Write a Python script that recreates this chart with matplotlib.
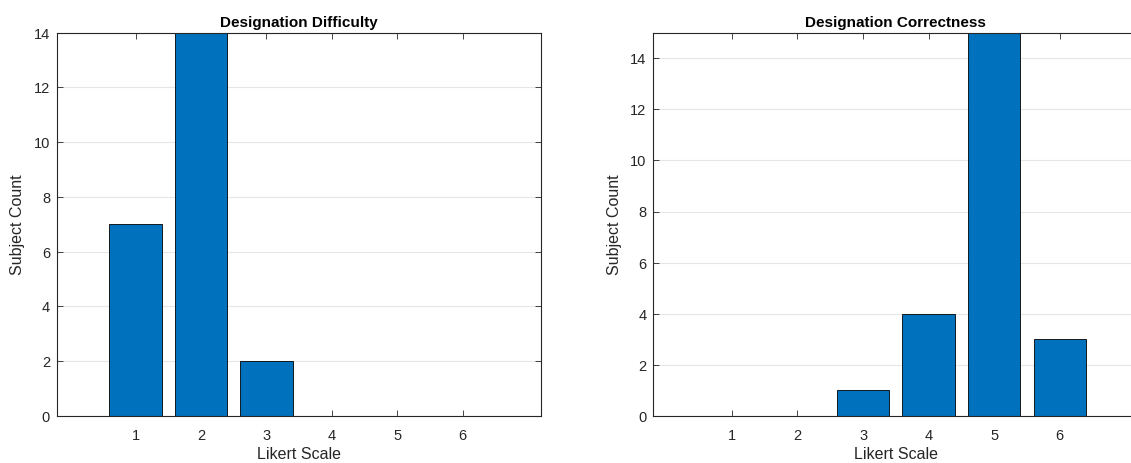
import matplotlib
matplotlib.use("Agg")
import matplotlib.pyplot as plt

plt.rcParams['font.family'] = ['Liberation Sans', 'DejaVu Sans']

likert = [1, 2, 3, 4, 5, 6]
difficulty_counts = [7, 14, 2, 0, 0, 0]
correctness_counts = [0, 0, 1, 4, 15, 3]
titles = ["Designation Difficulty", "Designation Correctness"]
xlabel = "Likert Scale"
ylabel = "Subject Count"

bar_color = "#0072BD"
spine_color = "#262626"
tick_color = "#262626"

W, H = 1131, 463
fig = plt.figure(figsize=(11.314, 4.634), dpi=100)
ax1 = fig.add_axes([57 / W, 47 / H, 484 / W, 383 / H])
ax2 = fig.add_axes([653 / W, 47 / H, 485 / W, 383 / H])

for ax, counts, title, ytop, yt in [
    (ax1, difficulty_counts, titles[0], 14, range(0, 15, 2)),
    (ax2, correctness_counts, titles[1], 15, range(0, 15, 2)),
]:
    ax.bar(likert, counts, width=0.8, color=bar_color, edgecolor="black",
           linewidth=0.6, zorder=3)
    ax.set_xlim(-0.2, 7.2)
    ax.set_ylim(0, ytop)
    ax.set_xticks(likert)
    ax.set_yticks(list(yt))
    ax.yaxis.grid(True, color="#e6e6e6", linewidth=0.8, zorder=0)
    ax.set_axisbelow(True)
    ax.tick_params(direction="in", length=4, width=0.6, colors=tick_color,
                   labelsize=10.5, top=True, right=True)
    ax.tick_params(axis='y', pad=5)
    ax.tick_params(axis='x', pad=9)
    for s in ax.spines.values():
        s.set_color(spine_color)
        s.set_linewidth(0.8)
        s.set_zorder(4)
    ax.set_title(title, fontsize=11, fontweight="bold", color="black", pad=4)
    ax.set_xlabel(xlabel, fontsize=11.5, color=tick_color, labelpad=3)
    ax.set_ylabel(ylabel, fontsize=11.5, color=tick_color, labelpad=6)

ax2.spines['right'].set_visible(False)

fig.savefig("out.png", dpi=100, facecolor="white")
